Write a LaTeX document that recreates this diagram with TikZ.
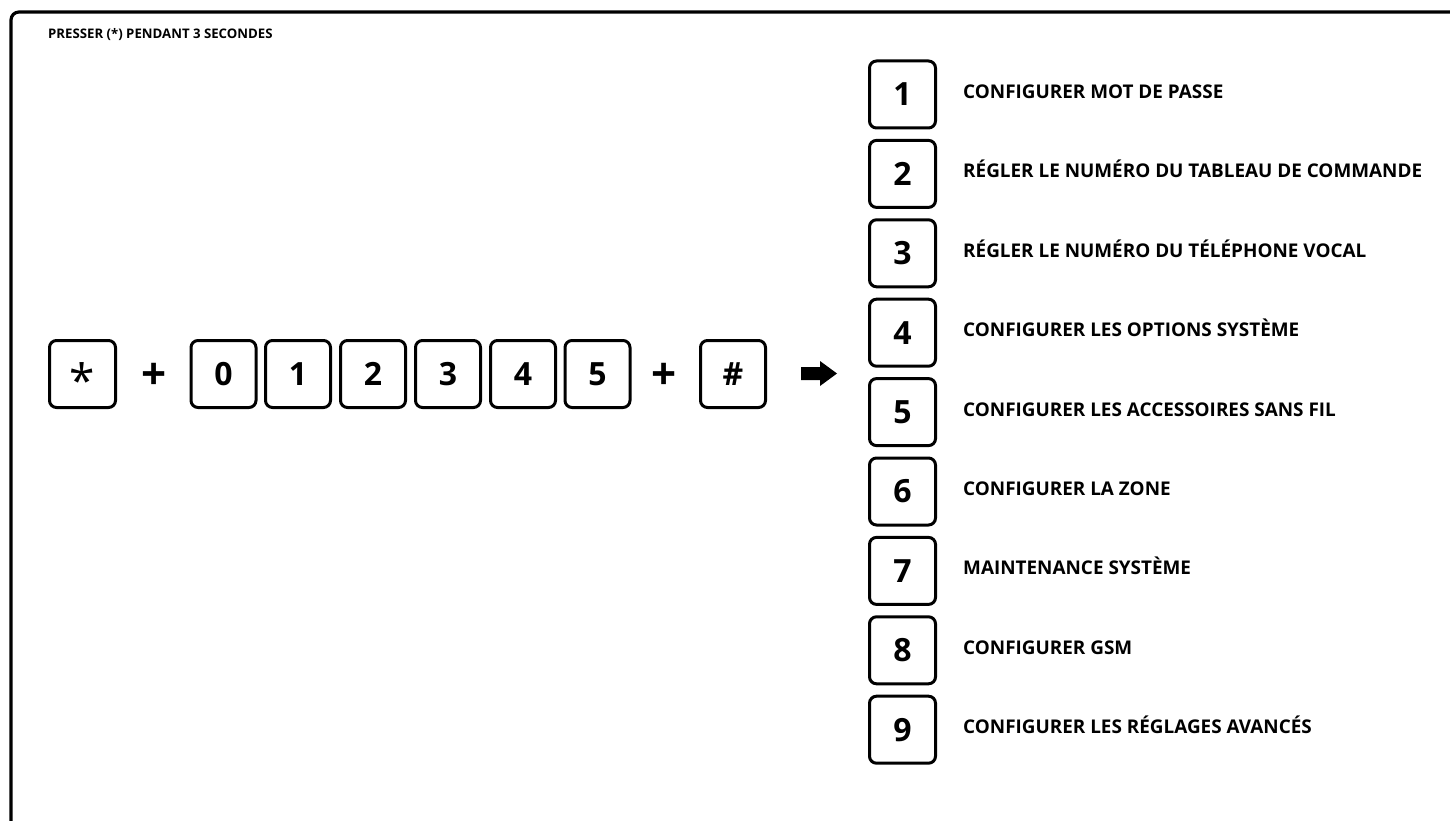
\documentclass[tikz,border=0pt]{standalone}
\usepackage{fontspec}
\setmainfont{Open Sans}
\usetikzlibrary{positioning}

\begin{document}
\begin{tikzpicture}[x=1pt, y=-1pt,
    key/.style={draw, line width=3pt, rounded corners=7pt, minimum width=65pt,
      minimum height=67pt, inner sep=0pt, font=\bfseries\fontsize{32}{32}\selectfont},
    plus/.style={inner sep=0pt, font=\bfseries\fontsize{44}{44}\selectfont},
    menu/.style={anchor=base west, inner sep=0pt, font=\bfseries\fontsize{18.9}{19}\selectfont}]
  \useasboundingbox (0,0) rectangle (1450,821);
  % frame
  \draw[line width=3.2pt, rounded corners=8pt] (11,825) -- (11,12) -- (1455,12);
  \node[anchor=base west, inner sep=0pt, font=\bfseries\fontsize{13.2}{14}\selectfont]
    (title) at (48,39) {PRESSER (*) PENDANT 3 SECONDES};

  % code row
  \node[key, minimum width=66pt] (star) at (82.5,374)
    {\mdseries\fontsize{46}{46}\selectfont\raisebox{-23pt}[0pt][0pt]{*}};
  \node[plus] (plusA) at (154,376.5) {+};
  \node[key] (k0) at (223.5,374) {0};
  \node[key] (k1) at (298,374) {1};
  \node[key] (k2) at (373,374) {2};
  \node[key] (k3) at (448,374) {3};
  \node[key] (k4) at (523,374) {4};
  \node[key] (k5) at (597.5,374) {5};
  \node[plus] (plusB) at (664,376.5) {+};
  \node[key] (hash) at (733,374) {\#};
  \fill (801,367) -- (820,367) -- (820,361) -- (837,373.5) -- (820,386)
    -- (820,380) -- (801,380) -- cycle;

  % menu column
  \node[key, minimum width=66pt] (m1) at (902.5,94.5) {1};
  \node[menu] (t1) at (963,98.5) {CONFIGURER MOT DE PASSE};
  \node[key, minimum width=66pt] (m2) at (902.5,173.9) {2};
  \node[menu] (t2) at (963,177.9) {RÉGLER LE NUMÉRO DU TABLEAU DE COMMANDE};
  \node[key, minimum width=66pt] (m3) at (902.5,253.3) {3};
  \node[menu] (t3) at (963,257.3) {RÉGLER LE NUMÉRO DU TÉLÉPHONE VOCAL};
  \node[key, minimum width=66pt] (m4) at (902.5,332.7) {4};
  \node[menu] (t4) at (963,336.7) {CONFIGURER LES OPTIONS SYSTÈME};
  \node[key, minimum width=66pt] (m5) at (902.5,412.1) {5};
  \node[menu] (t5) at (963,416.1) {CONFIGURER LES ACCESSOIRES SANS FIL};
  \node[key, minimum width=66pt] (m6) at (902.5,491.5) {6};
  \node[menu] (t6) at (963,495.5) {CONFIGURER LA ZONE};
  \node[key, minimum width=66pt] (m7) at (902.5,570.9) {7};
  \node[menu] (t7) at (963,574.9) {MAINTENANCE SYSTÈME};
  \node[key, minimum width=66pt] (m8) at (902.5,650.3) {8};
  \node[menu] (t8) at (963,654.3) {CONFIGURER GSM};
  \node[key, minimum width=66pt] (m9) at (902.5,729.7) {9};
  \node[menu] (t9) at (963,733.7) {CONFIGURER LES RÉGLAGES AVANCÉS};
\end{tikzpicture}
\end{document}
